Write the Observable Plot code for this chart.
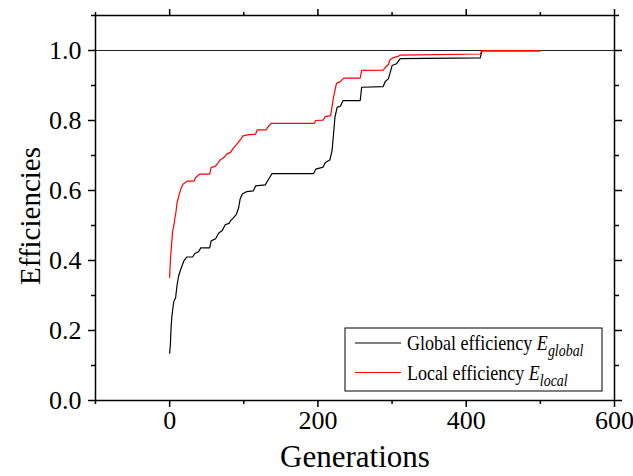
<!DOCTYPE html>
<html>
<head>
<meta charset="utf-8">
<script src="https://cdn.jsdelivr.net/npm/d3@7"></script>
<script src="https://cdn.jsdelivr.net/npm/@observablehq/plot@0.6"></script>
<style>
  html, body { margin: 0; padding: 0; background: white; }
  #chart svg { display: block; }
</style>
</head>
<body>
<div id="chart"></div>
<script>
// Global efficiency (black)
const genGlobal = [0,1,2,3,5,6,8,10,12,15,19,23,31,34,39,42,54,56,62,66,71,75,80,82,86,90,93,95,98,104,113,116,129,132,138,194,197,207,210,216,219,221,223,226,230,234,257,259,288,291,295,297,300,306,311,419,421,500];
const effGlobal = [0.135,0.16,0.21,0.24,0.275,0.285,0.293,0.33,0.355,0.375,0.398,0.41,0.41,0.42,0.425,0.436,0.436,0.456,0.462,0.478,0.486,0.502,0.506,0.513,0.522,0.532,0.55,0.575,0.59,0.597,0.599,0.613,0.616,0.627,0.648,0.648,0.661,0.667,0.68,0.687,0.713,0.76,0.81,0.838,0.84,0.857,0.857,0.895,0.897,0.912,0.919,0.933,0.957,0.962,0.977,0.979,0.999,0.999];
// Local efficiency (red)
const genLocal = [0,1,2,4,6,7,8,10,13,15,18,24,33,35,41,54,56,61,64,68,73,77,82,86,91,96,99,105,116,118,130,132,137,195,197,207,210,217,219,221,225,230,235,257,259,288,291,295,297,301,308,311,419,421,500];
const effLocal = [0.352,0.4,0.43,0.484,0.503,0.52,0.53,0.565,0.589,0.604,0.618,0.627,0.627,0.637,0.647,0.647,0.666,0.668,0.675,0.687,0.694,0.704,0.709,0.721,0.733,0.747,0.756,0.759,0.761,0.773,0.773,0.78,0.792,0.792,0.8,0.801,0.811,0.814,0.838,0.866,0.906,0.911,0.921,0.921,0.943,0.944,0.952,0.96,0.973,0.979,0.983,0.987,0.99,1.0,1.0];

const xTicks = [0, 200, 400, 600];
const xMinor = [-100, 100, 300, 500];
const yTicks = [0, 0.2, 0.4, 0.6, 0.8, 1.0];
const yMinor = [0.1, 0.3, 0.5, 0.7, 0.9, 1.1];
const xTitle = "Generations";
const yTitle = "Efficiencies";
const legendItems = [
  {label: "Global efficiency ", sym: "E", sub: "global", color: "black"},
  {label: "Local efficiency ", sym: "E", sub: "local", color: "red"}
];

const globalData = genGlobal.map((g, i) => ({gen: g, eff: effGlobal[i]}));
const localData = genLocal.map((g, i) => ({gen: g, eff: effLocal[i]}));
const blank = () => "";
const serif = "'Liberation Serif', 'Times New Roman', serif";

const chart = Plot.plot({
  width: 633,
  height: 476,
  marginLeft: 95,
  marginRight: 19,
  marginTop: 15,
  marginBottom: 76,
  style: {fontFamily: serif, fontSize: "26px", color: "black", background: "white"},
  x: {domain: [-100, 600], axis: null},
  y: {domain: [0, 1.1], axis: null},
  marks: [
    Plot.ruleY([1], {stroke: "#222", strokeWidth: 1}),
    Plot.line(globalData, {x: "gen", y: "eff", stroke: "black", strokeWidth: 1.2}),
    Plot.line(localData, {x: "gen", y: "eff", stroke: "red", strokeWidth: 1.2}),
    Plot.frame({stroke: "black", strokeWidth: 1.5}),
    Plot.axisX(xTicks, {anchor: "bottom", tickSize: 7, tickPadding: 3, label: null, tickFormat: d => String(d), fontSize: 26, strokeWidth: 1.5}),
    Plot.axisX(xMinor, {anchor: "bottom", tickSize: 4, label: null, tickFormat: blank, strokeWidth: 1.5}),
    Plot.axisX(xTicks, {anchor: "top", tickSize: 7, label: null, tickFormat: blank, strokeWidth: 1.5}),
    Plot.axisX(xMinor, {anchor: "top", tickSize: 4, label: null, tickFormat: blank, strokeWidth: 1.5}),
    Plot.axisY(yTicks, {anchor: "left", tickSize: 7, tickPadding: 7, label: null, tickFormat: d3.format(".1f"), fontSize: 26, strokeWidth: 1.5}),
    Plot.axisY(yMinor, {anchor: "left", tickSize: 4, label: null, tickFormat: blank, strokeWidth: 1.5}),
    Plot.axisY(yTicks, {anchor: "right", tickSize: 7, label: null, tickFormat: blank, strokeWidth: 1.5}),
    Plot.axisY(yMinor, {anchor: "right", tickSize: 4, label: null, tickFormat: blank, strokeWidth: 1.5}),
    Plot.text([xTitle], {frameAnchor: "bottom", dy: 57, lineAnchor: "middle", textAnchor: "middle", fontSize: 31}),
    Plot.text([yTitle], {frameAnchor: "left", dx: -65, dy: 8, rotate: -90, lineAnchor: "middle", textAnchor: "middle", fontSize: 29})
  ]
});

document.getElementById("chart").appendChild(chart);

// Legend inside the plot area
const svg = d3.select(chart);
const lg = svg.append("g").attr("font-family", serif).attr("text-anchor", "start");
lg.append("rect").attr("x", 345).attr("y", 328).attr("width", 257).attr("height", 63)
  .attr("fill", "white").attr("stroke", "black").attr("stroke-width", 1);
legendItems.forEach((d, i) => {
  const y = 343 + i * 29.5;
  lg.append("line").attr("x1", 355).attr("x2", 401).attr("y1", y).attr("y2", y)
    .attr("stroke", d.color).attr("stroke-width", 1.2);
  const t = lg.append("text")
    .attr("transform", `translate(407,${y + 7}) scale(0.82,1)`)
    .attr("font-size", 22).attr("fill", "black").attr("text-anchor", "start");
  t.append("tspan").text(d.label);
  t.append("tspan").attr("font-style", "italic").text(d.sym);
  t.append("tspan").attr("font-style", "italic").attr("font-size", 17).attr("dy", 6).text(d.sub);
});
</script>
</body>
</html>
